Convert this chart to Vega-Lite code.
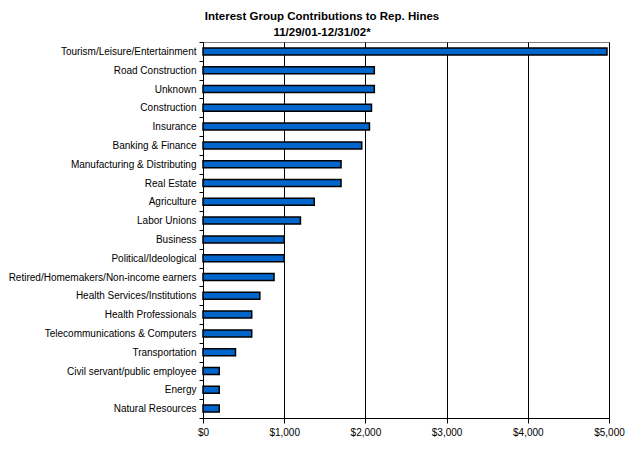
{
  "$schema": "https://vega.github.io/schema/vega-lite/v6.json",
  "width": 406,
  "height": 376,
  "autosize": {"type": "none"},
  "padding": {"left": 203, "top": 42, "right": 33, "bottom": 42},
  "background": "white",
  "title": {
    "text": ["Interest Group Contributions to Rep. Hines", "11/29/01-12/31/02*"],
    "font": "Liberation Sans",
    "fontSize": 11.5,
    "fontWeight": "bold",
    "color": "black",
    "anchor": "middle",
    "frame": "group",
    "dx": -84,
    "dy": 7,
    "offset": 6,
    "lineHeight": 16
  },
  "data": {
    "values": [
      {"Sector": "Tourism/Leisure/Entertainment", "Amount": 4975},
      {"Sector": "Road Construction", "Amount": 2110},
      {"Sector": "Unknown", "Amount": 2110},
      {"Sector": "Construction", "Amount": 2075},
      {"Sector": "Insurance", "Amount": 2050},
      {"Sector": "Banking & Finance", "Amount": 1955},
      {"Sector": "Manufacturing & Distributing", "Amount": 1700},
      {"Sector": "Real Estate", "Amount": 1700},
      {"Sector": "Agriculture", "Amount": 1370},
      {"Sector": "Labor Unions", "Amount": 1200},
      {"Sector": "Business", "Amount": 1000},
      {"Sector": "Political/Ideological", "Amount": 1000},
      {"Sector": "Retired/Homemakers/Non-income earners", "Amount": 875},
      {"Sector": "Health Services/Institutions", "Amount": 700},
      {"Sector": "Health Professionals", "Amount": 600},
      {"Sector": "Telecommunications & Computers", "Amount": 600},
      {"Sector": "Transportation", "Amount": 400},
      {"Sector": "Civil servant/public employee", "Amount": 200},
      {"Sector": "Energy", "Amount": 200},
      {"Sector": "Natural Resources", "Amount": 200}
    ]
  },
  "mark": {"type": "bar", "color": "#0066CC", "stroke": "black", "strokeWidth": 1.5, "size": 7},
  "encoding": {
    "y": {
      "field": "Sector",
      "type": "nominal",
      "sort": null,
      "title": null,
      "scale": {"paddingInner": 0, "paddingOuter": 0},
      "axis": {
        "tickBand": "extent",
        "tickSize": 4,
        "tickColor": "black",
        "domainColor": "black",
        "labelPadding": 3,
        "labelFont": "Liberation Sans",
        "labelFontSize": 10,
        "labelColor": "black",
        "labelLimit": 300,
        "grid": false
      }
    },
    "x": {
      "field": "Amount",
      "type": "quantitative",
      "title": null,
      "scale": {"domain": [0, 5000], "nice": false},
      "axis": {
        "values": [0, 1000, 2000, 3000, 4000, 5000],
        "format": "$,.0f",
        "grid": true,
        "gridColor": "black",
        "gridOpacity": 1,
        "tickSize": 5,
        "tickColor": "black",
        "domainColor": "black",
        "labelPadding": 4,
        "labelFont": "Liberation Sans",
        "labelFontSize": 10,
        "labelColor": "black",
        "labelFlush": false
      }
    }
  },
  "config": {
    "view": {"stroke": "#808080", "strokeWidth": 1}
  }
}
